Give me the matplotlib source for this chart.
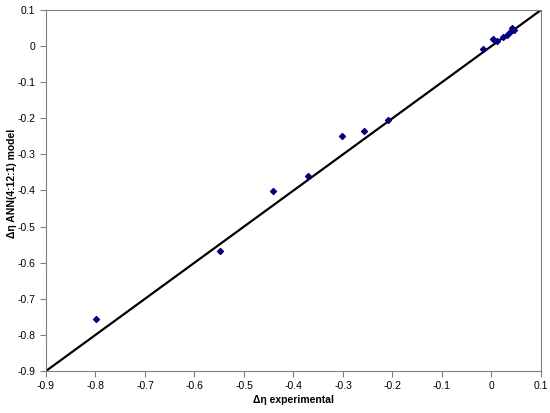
import matplotlib
matplotlib.use("Agg")
import matplotlib.pyplot as plt
import numpy as np

plt.rcParams['font.family'] = ['Liberation Sans', 'DejaVu Sans']

# experimental vs ANN predicted values
exp_vals = [-0.799, -0.548, -0.441, -0.371, -0.302, -0.258, -0.209,
            -0.017, 0.003, 0.011, 0.023, 0.031, 0.037, 0.041, 0.045]
ann_vals = [-0.756, -0.567, -0.401, -0.360, -0.249, -0.235, -0.205,
            -0.008, 0.020, 0.014, 0.025, 0.031, 0.039, 0.050, 0.045]

ticks = np.round(np.arange(-0.9, 0.11, 0.1), 1)
tick_labels = ["0" if t == 0 else f"{t:g}" for t in ticks]

fig = plt.figure(figsize=(5.5, 4.13), dpi=100)
ax = fig.add_axes([0.0836, 0.1017, 0.9, 0.8741])

# parity line
ax.plot([-0.9, 0.1], [-0.9, 0.1], color="black", lw=1.6, zorder=2)
ax.scatter(exp_vals, ann_vals, marker="D", s=9, color="#000080", zorder=3)

ax.set_xlim(-0.9, 0.1)
ax.set_ylim(-0.9, 0.1)
ax.set_xticks(ticks)
ax.set_yticks(ticks)
ax.set_xticklabels(tick_labels)
ax.set_yticklabels(tick_labels)
ax.tick_params(direction="out", length=4, width=0.8, color="#808080",
               labelsize=7.5, labelcolor="black")
for s in ax.spines.values():
    s.set_color("#808080")
    s.set_linewidth(0.8)

ax.set_xlabel("Δη experimental", fontsize=7.5, fontweight="bold")
ax.set_ylabel("Δη ANN(4:12:1) model", fontsize=7.5, fontweight="bold")
ax.xaxis.set_label_coords(0.5, -0.08)
ax.yaxis.set_label_coords(-0.069, 0.52)
ax.xaxis.label.set_va("center")
ax.yaxis.label.set_va("center")

fig.savefig("out.png", dpi=100)
